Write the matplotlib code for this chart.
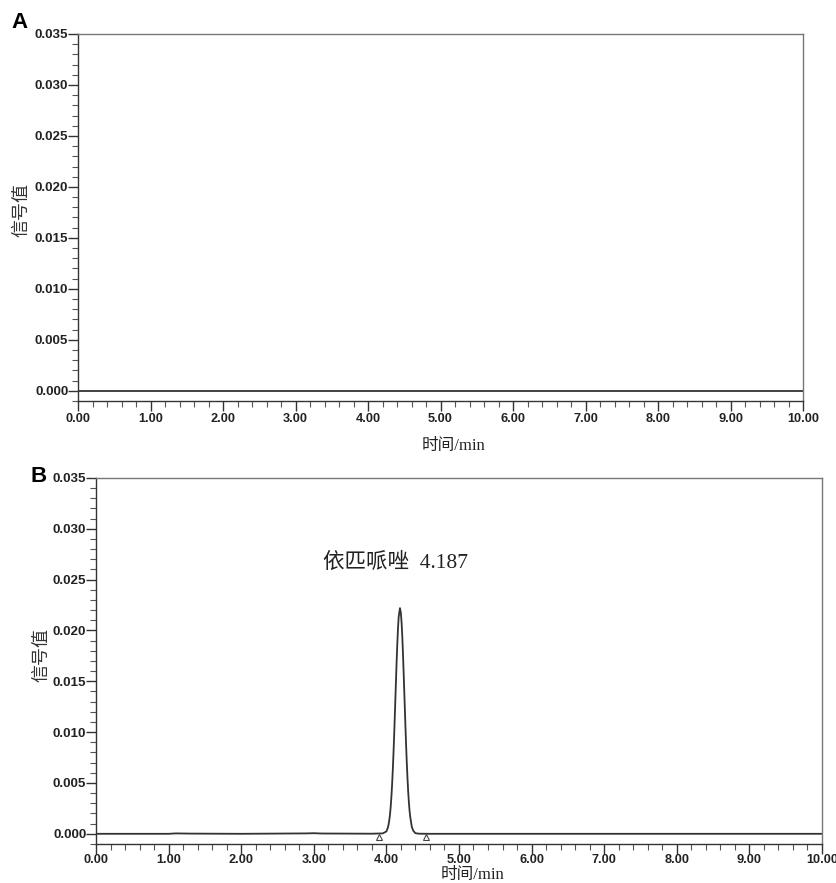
import numpy as np
import matplotlib.pyplot as plt
from matplotlib.ticker import MultipleLocator, FormatStrFormatter

# panel A: blank run, flat baseline
blank_time = [0.0, 2.0, 4.0, 6.0, 8.0, 10.0]
blank_signal = [0.0, 0.0, 0.0, 0.0, 0.0, 0.0]

# panel B: sample run
sample_time = [0.0, 1.0, 1.1, 1.3, 2.0, 2.9, 3.0, 3.1, 3.8, 3.95,
               4.00, 4.02, 4.03, 4.04, 4.05, 4.06, 4.07, 4.08, 4.09, 4.10,
               4.11, 4.12, 4.13, 4.14, 4.15, 4.16, 4.17, 4.187, 4.20, 4.21,
               4.22, 4.23, 4.24, 4.25, 4.26, 4.27, 4.28, 4.29, 4.30, 4.31,
               4.32, 4.33, 4.35, 4.37, 4.40, 4.45, 4.6, 5.0, 7.0, 10.0]
sample_signal = [0.0, 0.0, 0.00004, 0.00002, 0.0, 0.00004, 0.00006, 0.00003, 0.00001, 0.00004,
                 0.00023, 0.00059, 0.0009, 0.00133, 0.0019, 0.00272, 0.00374, 0.0050, 0.00653, 0.0083,
                 0.01027, 0.0124, 0.01455, 0.0167, 0.01858, 0.0202, 0.02138, 0.0222, 0.0217, 0.02072,
                 0.0193, 0.01745, 0.0154, 0.01325, 0.0111, 0.00906, 0.0072, 0.00559, 0.0042, 0.0031,
                 0.00222, 0.0016, 0.0007, 0.0003, 0.00006, 0.00001, 0.0, 0.0, 0.0, 0.0]

peak_name = "依匹哌唑"
peak_rt = 4.187
baseline_marks = [3.90, 4.55]

panel_labels = ["A", "B"]
ylabel = "信号值"
xlabel = "时间/min"

CJK = "Noto Sans CJK SC"


def style_axes(ax, xpad):
    ax.set_xlim(0, 10)
    ax.set_ylim(-0.001, 0.035)
    ax.xaxis.set_major_locator(MultipleLocator(1.0))
    ax.xaxis.set_minor_locator(MultipleLocator(0.2))
    ax.yaxis.set_major_locator(MultipleLocator(0.005))
    ax.yaxis.set_minor_locator(MultipleLocator(0.001))
    ax.xaxis.set_major_formatter(FormatStrFormatter("%.2f"))
    ax.yaxis.set_major_formatter(FormatStrFormatter("%.3f"))
    ax.set_yticks(np.arange(0, 0.0351, 0.005))
    ax.tick_params(which="major", direction="out", length=7, width=1,
                   color="#333333", labelcolor="#222222")
    ax.tick_params(which="minor", direction="out", length=4, width=0.8,
                   color="#555555")
    ax.tick_params(axis="y", pad=0)
    ax.tick_params(axis="x", pad=xpad)
    for lab in ax.get_xticklabels():
        lab.set_family("Liberation Sans")
        lab.set_fontweight("bold")
        lab.set_fontsize(9.2)
    for lab in ax.get_yticklabels():
        lab.set_family("Liberation Sans")
        lab.set_fontweight("bold")
        lab.set_fontsize(9.6)
    for side in ["left", "bottom"]:
        ax.spines[side].set_color("#333333")
        ax.spines[side].set_linewidth(1.0)
    for side in ["top", "right"]:
        ax.spines[side].set_color("#777777")
        ax.spines[side].set_linewidth(1.0)


def main():
    fig = plt.figure(figsize=(8.37, 8.83), dpi=100)
    ax_a = fig.add_axes([0.0932, 0.5459, 0.8662, 0.4156])
    ax_b = fig.add_axes([0.1147, 0.0442, 0.8673, 0.4145])

    ax_a.plot(blank_time, blank_signal, color="#333333", lw=1.3)
    ax_b.plot(sample_time, sample_signal, color="#333333", lw=1.3)
    ax_b.plot(baseline_marks, [-0.00028] * len(baseline_marks), linestyle="none",
              marker="^", markersize=5, markerfacecolor="white",
              markeredgecolor="#444444", markeredgewidth=0.8)
    ax_b.text(4.13, 0.0266, f"{peak_name}  {peak_rt:.3f}", ha="center", va="center",
              fontsize=15.5, family=["Liberation Serif", CJK], color="#222222")

    style_axes(ax_a, xpad=1.5)
    style_axes(ax_b, xpad=0.3)
    for ax in (ax_a, ax_b):
        ax.set_ylabel(ylabel, family=[CJK], fontsize=13, color="#333333")
        ax.set_xlabel(xlabel, family=["Liberation Serif", CJK], fontsize=12,
                      color="#222222")

    ax_a.yaxis.set_label_coords(-0.066, 0.52)
    ax_a.xaxis.set_label_coords(0.518, -0.1)
    ax_b.yaxis.set_label_coords(-0.063, 0.515)
    ax_b.xaxis.set_label_coords(0.518, -0.063)

    fig.text(20 / 837, 1 - 22 / 883, panel_labels[0], fontsize=16,
             fontweight="bold", family="Liberation Sans", ha="center", va="center")
    fig.text(39 / 837, 1 - 476 / 883, panel_labels[1], fontsize=16,
             fontweight="bold", family="Liberation Sans", ha="center", va="center")

    fig.savefig("out.png", dpi=100)
    plt.close(fig)


if __name__ == "__main__":
    main()
